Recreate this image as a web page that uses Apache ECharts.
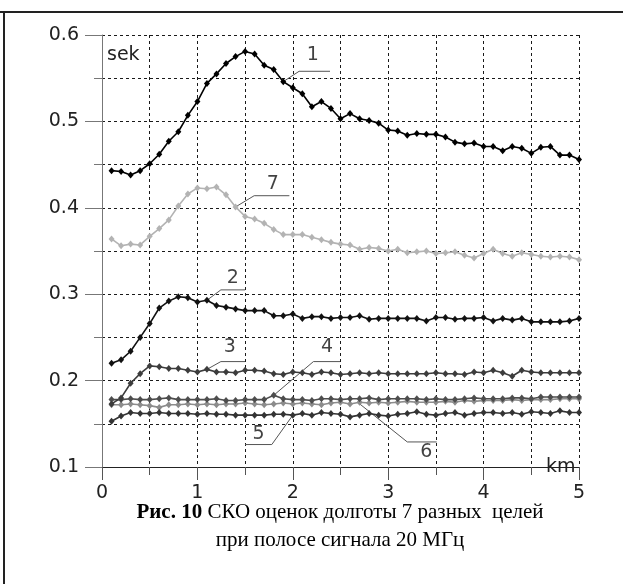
<!DOCTYPE html>
<html><head><meta charset="utf-8">
<script src="https://cdn.jsdelivr.net/npm/echarts@6/dist/echarts.min.js"></script>
<style>html,body{margin:0;padding:0;background:#fff}#c{width:623px;height:584px}</style>
</head><body><div id="c"></div>
<script>
// distance, km
const distanceKm = [0.1,0.2,0.3,0.4,0.5,0.6,0.7,0.8,0.9,1.0,
  1.1,1.2,1.3,1.4,1.5,1.6,1.7,1.8,1.9,2.0,
  2.1,2.2,2.3,2.4,2.5,2.6,2.7,2.8,2.9,3.0,
  3.1,3.2,3.3,3.4,3.5,3.6,3.7,3.8,3.9,4.0,
  4.1,4.2,4.3,4.4,4.5,4.6,4.7,4.8,4.9,5.0];

const target1 = [0.443,0.442,0.438,0.443,0.451,0.462,0.477,0.488,0.507,0.523,
  0.544,0.555,0.567,0.575,0.581,0.578,0.565,0.560,0.546,0.539,
  0.532,0.517,0.523,0.515,0.503,0.509,0.503,0.501,0.498,0.490,
  0.489,0.484,0.486,0.485,0.485,0.482,0.476,0.474,0.475,0.471,
  0.471,0.466,0.471,0.469,0.463,0.470,0.471,0.461,0.461,0.456];

const target2 = [0.220,0.224,0.234,0.250,0.266,0.284,0.292,0.297,0.296,0.291,
  0.293,0.287,0.285,0.283,0.281,0.281,0.281,0.275,0.275,0.277,
  0.272,0.274,0.274,0.272,0.273,0.273,0.275,0.271,0.272,0.272,
  0.272,0.272,0.272,0.269,0.273,0.273,0.271,0.272,0.272,0.273,
  0.269,0.272,0.270,0.272,0.268,0.268,0.268,0.268,0.269,0.272];

const target3 = [0.173,0.180,0.197,0.208,0.217,0.216,0.214,0.214,0.212,0.210,
  0.213,0.210,0.210,0.209,0.212,0.212,0.211,0.208,0.207,0.210,
  0.209,0.207,0.210,0.209,0.207,0.208,0.209,0.208,0.209,0.208,
  0.208,0.208,0.208,0.208,0.209,0.208,0.208,0.207,0.210,0.209,
  0.212,0.209,0.205,0.212,0.210,0.209,0.209,0.209,0.209,0.209];

const target4 = [0.178,0.178,0.179,0.178,0.178,0.179,0.180,0.178,0.178,0.178,
  0.178,0.179,0.177,0.177,0.178,0.178,0.178,0.183,0.179,0.178,
  0.178,0.177,0.179,0.179,0.178,0.179,0.179,0.180,0.178,0.179,
  0.179,0.179,0.179,0.178,0.179,0.178,0.178,0.179,0.180,0.179,
  0.179,0.179,0.180,0.180,0.179,0.181,0.181,0.181,0.181,0.181];

const target5 = [0.153,0.159,0.163,0.162,0.162,0.163,0.162,0.162,0.162,0.161,
  0.162,0.161,0.161,0.160,0.160,0.160,0.160,0.161,0.161,0.160,
  0.162,0.160,0.163,0.162,0.161,0.158,0.160,0.162,0.160,0.159,
  0.161,0.162,0.164,0.161,0.160,0.162,0.163,0.160,0.162,0.163,
  0.163,0.162,0.163,0.161,0.164,0.163,0.162,0.165,0.163,0.163];

const target6 = [0.172,0.172,0.173,0.172,0.171,0.169,0.172,0.172,0.173,0.172,
  0.173,0.172,0.173,0.173,0.174,0.173,0.172,0.173,0.174,0.173,
  0.174,0.173,0.172,0.174,0.175,0.173,0.175,0.174,0.175,0.174,
  0.175,0.176,0.175,0.175,0.175,0.176,0.175,0.177,0.176,0.177,
  0.177,0.177,0.178,0.177,0.178,0.178,0.178,0.179,0.179,0.179];

const target7 = [0.364,0.356,0.358,0.357,0.367,0.376,0.386,0.402,0.416,0.423,
  0.422,0.424,0.415,0.401,0.390,0.387,0.382,0.375,0.369,0.369,
  0.369,0.366,0.363,0.360,0.358,0.357,0.352,0.354,0.353,0.350,
  0.352,0.348,0.349,0.350,0.347,0.348,0.349,0.345,0.342,0.347,
  0.352,0.347,0.344,0.348,0.346,0.344,0.343,0.344,0.343,0.340];

const yTicks = [0.1,0.2,0.3,0.4,0.5,0.6];
const xTicks = [0,1,2,3,4,5];

const seriesDefs = [
  {name:'7', values: target7, color:'#b3b3b3'},
  {name:'6', values: target6, color:'#8c8c8c'},
  {name:'5', values: target5, color:'#333333'},
  {name:'4', values: target4, color:'#4d4d4d'},
  {name:'3', values: target3, color:'#3c3c3c'},
  {name:'2', values: target2, color:'#111111'},
  {name:'1', values: target1, color:'#000000'}
];

// curve labels with leader lines, in data units
const leaders = [
  {text:'1', at:[2.21,0.577], path:[[1.9,0.546],[2.066,0.558],[2.39,0.558]]},
  {text:'7', at:[1.79,0.428], path:[[1.4,0.401],[1.595,0.414],[1.964,0.414]]},
  {text:'2', at:[1.37,0.319], path:[[1.1,0.293],[1.246,0.305],[1.5,0.305]]},
  {text:'3', at:[1.34,0.239], path:[[1.1,0.213],[1.246,0.222],[1.5,0.222]]},
  {text:'4', at:[2.36,0.239], path:[[1.8,0.183],[2.216,0.222],[2.495,0.222]]},
  {text:'5', at:[1.64,0.138], path:[[2.0,0.160],[1.78,0.126],[1.5,0.126]]},
  {text:'6', at:[3.4,0.117], path:[[2.69,0.174],[3.2,0.129],[3.508,0.129]]}
];

const gridDash = {type:[3,3], color:'#1a1a1a', width:1};
const labelFont = 'DejaVu Sans';

const series = [];
leaders.forEach(l => series.push({
  type:'line', data:l.path, symbol:'none', silent:true, z:1,
  lineStyle:{color:'#555', width:1}, animation:false
}));
seriesDefs.forEach(s => series.push({
  name:s.name, type:'line', z:3,
  data: distanceKm.map((x,i)=>[x, s.values[i]]),
  symbol:'diamond', symbolSize:[6,7],
  itemStyle:{color:s.color},
  lineStyle:{color:s.color, width:1.6},
  animation:false
}));
series.push({
  type:'scatter', symbolSize:0, silent:true, z:4,
  data: leaders.map(l => [l.at[0], l.at[1], l.text]),
  label:{show:true, position:'inside', formatter:p=>p.value[2],
    fontFamily:labelFont, fontSize:19, color:'#111'},
  animation:false
});

const chart = echarts.init(document.getElementById('c'), null, {renderer:'canvas'});
chart.setOption({
  backgroundColor:'#fff',
  animation:false,
  grid:{left:102, right:44, top:35, bottom:117, containLabel:false},
  xAxis:{type:'value', min:xTicks[0], max:xTicks[xTicks.length-1], interval:1,
    axisLine:{show:true, onZero:false, lineStyle:{color:'#222', width:1}},
    axisTick:{show:true, length:13, lineStyle:{color:'#555'}},
    minorTick:{show:true, splitNumber:2, length:8, lineStyle:{color:'#555'}},
    splitLine:{show:true, lineStyle:gridDash},
    minorSplitLine:{show:true, lineStyle:gridDash},
    axisLabel:{margin:17, fontFamily:labelFont, fontSize:19, color:'#222',
      formatter:v=>String(v)}
  },
  yAxis:{type:'value', min:yTicks[0], max:yTicks[yTicks.length-1], interval:0.1,
    axisLine:{show:true, lineStyle:{color:'#777', width:1}},
    axisTick:{show:true, length:17, lineStyle:{color:'#777'}},
    minorTick:{show:true, splitNumber:2, length:8, lineStyle:{color:'#777'}},
    splitLine:{show:true, lineStyle:gridDash},
    minorSplitLine:{show:true, lineStyle:gridDash},
    axisLabel:{margin:23, fontFamily:labelFont, fontSize:19, color:'#222',
      formatter:v=>v.toFixed(1)}
  },
  graphic:[
    {type:'line', shape:{x1:0,y1:12,x2:623,y2:12}, style:{stroke:'#222', lineWidth:2}},
    {type:'line', shape:{x1:4,y1:11,x2:4,y2:584}, style:{stroke:'#222', lineWidth:2}},
    {type:'text', left:107, top:46, style:{text:'sek', font:'19px "DejaVu Sans"', fill:'#222'}},
    {type:'text', left:546, top:458, style:{text:'km', font:'19px "DejaVu Sans"', fill:'#222'}},
    {type:'text', x:340, y:502, style:{
      text:'{b|Рис. 10} СКО оценок долготы 7 разных  целей', align:'center',
      font:'21px "Liberation Serif"', fill:'#000',
      rich:{b:{fontFamily:'Liberation Serif', fontSize:21, fontWeight:'bold', fill:'#000'}}}},
    {type:'text', x:340, y:530, style:{
      text:'при полосе сигнала 20 МГц', align:'center', font:'21px "Liberation Serif"', fill:'#000'}}
  ],
  series:series
});
</script>
</body></html>
